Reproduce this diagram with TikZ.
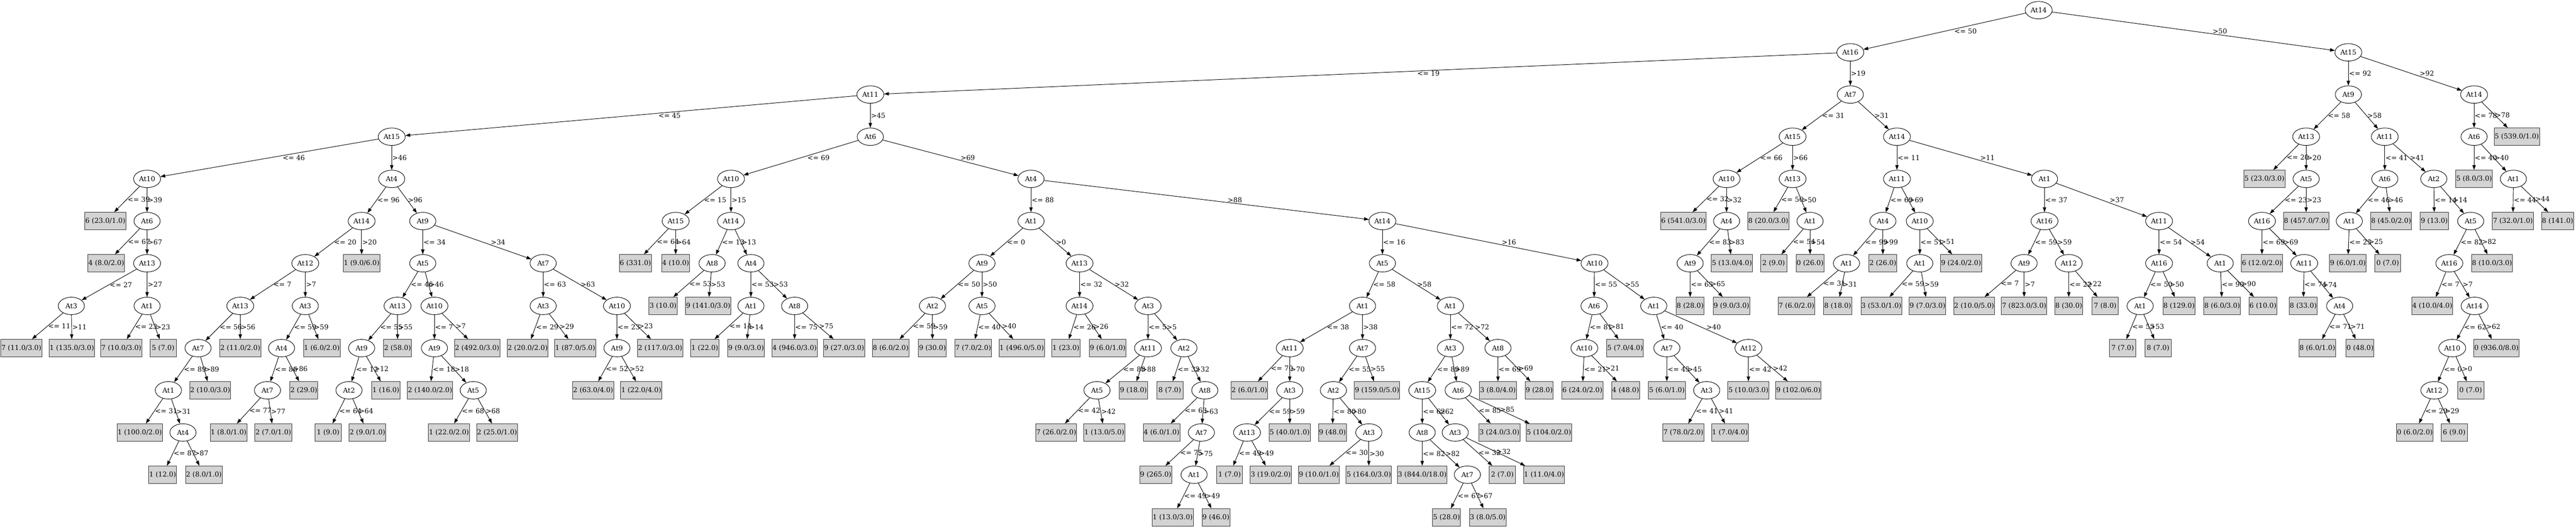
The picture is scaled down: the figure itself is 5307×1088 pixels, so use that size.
\documentclass[tikz,border=0pt]{standalone}
\usepackage{fontspec}
\setmainfont{DejaVu Serif}
\usetikzlibrary{shapes.geometric,arrows.meta}
\definecolor{leafgray}{HTML}{D3D3D3}
\begin{document}
\begin{tikzpicture}[
    x=1pt, y=-1pt, line width=1pt,
    font=\fontsize{14}{16}\selectfont,
    attr/.style={draw=black, ellipse, minimum width=54pt, minimum height=36pt, inner xsep=3pt, inner ysep=1pt},
    leaf/.style={draw=black!80, fill=leafgray, rectangle, minimum width=54pt, minimum height=36pt, inner xsep=1pt},
    arrow/.style={-{Triangle[length=10pt,width=7pt]}, black},
    lbl/.style={anchor=west, inner sep=1pt}
]
\useasboundingbox (0,0) rectangle (5307,1088);

% Root and upper levels
\node[attr] (n1) at (4200,21) {At14};
\node[attr] (n2) at (3812,108) {At16};
\node[attr] (n3) at (1793,195) {At11};
\node[attr] (n99) at (4838,108) {At15};

% Left part, At15
\node[attr] (n4) at (807,282) {At15};
\node[attr] (n5) at (303,369) {At10};
\node[leaf] (l1) at (217,456) {6 (23.0/1.0)};
\node[attr] (n6) at (303,456) {At6};
\node[leaf] (l2) at (219,543) {4 (8.0/2.0)};
\node[attr] (n7) at (303,543) {At13};
\node[attr] (n8) at (147,631) {At3};
\node[leaf] (l3) at (44,718) {7 (11.0/3.0)};
\node[leaf] (l4) at (148,718) {1 (135.0/3.0)};
\node[attr] (n9) at (303,631) {At1};
\node[leaf] (l5) at (250,718) {7 (10.0/3.0)};
\node[leaf] (l6) at (336,718) {5 (7.0)};
\node[attr] (n10) at (807,369) {At4};
\node[attr] (n11) at (745,456) {At14};
\node[attr] (n12) at (629,543) {At12};
\node[attr] (n13) at (495,631) {At13};
\node[attr] (n14) at (408,718) {At7};
\node[attr] (n15) at (347,805) {At1};
\node[leaf] (l7) at (288,892) {1 (100.0/2.0)};
\node[attr] (n16) at (377,892) {At4};
\node[leaf] (l8) at (335,979) {1 (12.0)};
\node[leaf] (l9) at (420,979) {2 (8.0/1.0)};
\node[leaf] (l10) at (433,805) {2 (10.0/3.0)};
\node[leaf] (l11) at (495,718) {2 (11.0/2.0)};
\node[attr] (n17) at (629,631) {At3};
\node[attr] (n18) at (580,718) {At4};
\node[attr] (n19) at (551,805) {At7};
\node[leaf] (l12) at (471,892) {1 (8.0/1.0)};
\node[leaf] (l13) at (563,892) {2 (7.0/1.0)};
\node[leaf] (l14) at (626,805) {2 (29.0)};
\node[leaf] (l15) at (663,718) {1 (6.0/2.0)};
\node[leaf] (l16) at (745,543) {1 (9.0/6.0)};
\node[attr] (n20) at (871,456) {At9};
\node[attr] (n21) at (871,543) {At5};
\node[attr] (n22) at (819,631) {At13};
\node[attr] (n23) at (745,718) {At9};
\node[attr] (n24) at (719,805) {At2};
\node[leaf] (l17) at (676,892) {1 (9.0)};
\node[leaf] (l18) at (757,892) {2 (9.0/1.0)};
\node[leaf] (l19) at (795,805) {1 (16.0)};
\node[leaf] (l20) at (819,718) {2 (58.0)};
\node[attr] (n25) at (895,631) {At10};
\node[attr] (n26) at (895,718) {At9};
\node[leaf] (l21) at (886,805) {2 (140.0/2.0)};
\node[attr] (n27) at (975,805) {At5};
\node[leaf] (l22) at (925,892) {1 (22.0/2.0)};
\node[leaf] (l23) at (1024,892) {2 (25.0/1.0)};
\node[leaf] (l24) at (983,718) {2 (492.0/3.0)};
\node[attr] (n28) at (1119,543) {At7};
\node[attr] (n29) at (1119,631) {At3};
\node[leaf] (l25) at (1087,718) {2 (20.0/2.0)};
\node[leaf] (l26) at (1185,718) {1 (87.0/5.0)};
\node[attr] (n30) at (1271,631) {At10};
\node[attr] (n31) at (1271,718) {At9};
\node[leaf] (l27) at (1222,805) {2 (63.0/4.0)};
\node[leaf] (l28) at (1321,805) {1 (22.0/4.0)};
\node[leaf] (l29) at (1360,718) {2 (117.0/3.0)};

% Middle part, At6
\node[attr] (n32) at (1793,282) {At6};
\node[attr] (n33) at (1506,369) {At10};
\node[attr] (n34) at (1392,456) {At15};
\node[leaf] (l30) at (1309,543) {6 (331.0)};
\node[leaf] (l31) at (1392,543) {4 (10.0)};
\node[attr] (n35) at (1506,456) {At14};
\node[attr] (n36) at (1467,543) {At8};
\node[leaf] (l32) at (1366,631) {3 (10.0)};
\node[leaf] (l33) at (1459,631) {9 (141.0/3.0)};
\node[attr] (n37) at (1547,543) {At4};
\node[attr] (n38) at (1547,631) {At1};
\node[leaf] (l34) at (1452,718) {1 (22.0)};
\node[leaf] (l35) at (1537,718) {9 (9.0/3.0)};
\node[attr] (n39) at (1637,631) {At8};
\node[leaf] (l36) at (1637,718) {4 (946.0/3.0)};
\node[leaf] (l37) at (1739,718) {9 (27.0/3.0)};
\node[attr] (n40) at (2124,369) {At4};
\node[attr] (n41) at (2124,456) {At1};
\node[attr] (n42) at (2023,543) {At9};
\node[attr] (n43) at (1921,631) {At2};
\node[leaf] (l38) at (1835,718) {8 (6.0/2.0)};
\node[leaf] (l39) at (1921,718) {9 (30.0)};
\node[attr] (n44) at (2023,631) {At5};
\node[leaf] (l40) at (2005,718) {7 (7.0/2.0)};
\node[leaf] (l41) at (2105,718) {1 (496.0/5.0)};
\node[attr] (n45) at (2224,543) {At13};
\node[attr] (n46) at (2224,631) {At14};
\node[leaf] (l42) at (2196,718) {1 (23.0)};
\node[leaf] (l43) at (2282,718) {9 (6.0/1.0)};
\node[attr] (n47) at (2365,631) {At3};
\node[attr] (n48) at (2365,718) {At11};
\node[attr] (n49) at (2260,805) {At5};
\node[leaf] (l44) at (2176,892) {7 (26.0/2.0)};
\node[leaf] (l45) at (2275,892) {1 (13.0/5.0)};
\node[leaf] (l46) at (2335,805) {9 (18.0)};
\node[attr] (n50) at (2439,718) {At2};
\node[leaf] (l47) at (2410,805) {8 (7.0)};
\node[attr] (n51) at (2482,805) {At8};
\node[leaf] (l48) at (2393,892) {4 (6.0/1.0)};
\node[attr] (n52) at (2475,892) {At7};
\node[leaf] (l49) at (2381,979) {9 (265.0)};
\node[attr] (n53) at (2460,979) {At1};
\node[leaf] (l50) at (2416,1067) {1 (13.0/3.0)};
\node[leaf] (l51) at (2505,1067) {9 (46.0)};
\node[attr] (n54) at (2848,456) {At14};
\node[attr] (n55) at (2848,543) {At5};
\node[attr] (n56) at (2807,631) {At1};
\node[attr] (n57) at (2657,718) {At11};
\node[leaf] (l52) at (2574,805) {2 (6.0/1.0)};
\node[attr] (n58) at (2657,805) {At3};
\node[attr] (n59) at (2569,892) {At13};
\node[leaf] (l53) at (2533,979) {1 (7.0)};
\node[leaf] (l54) at (2618,979) {3 (19.0/2.0)};
\node[leaf] (l55) at (2657,892) {5 (40.0/1.0)};
\node[attr] (n60) at (2807,718) {At7};
\node[attr] (n61) at (2747,805) {At2};
\node[leaf] (l56) at (2745,892) {9 (48.0)};
\node[attr] (n62) at (2820,892) {At3};
\node[leaf] (l57) at (2717,979) {9 (10.0/1.0)};
\node[leaf] (l58) at (2820,979) {5 (164.0/3.0)};
\node[leaf] (l59) at (2837,805) {9 (159.0/5.0)};
\node[attr] (n63) at (2988,631) {At1};
\node[attr] (n64) at (2988,718) {At3};
\node[attr] (n65) at (2930,805) {At15};
\node[attr] (n66) at (2930,892) {At8};
\node[leaf] (l60) at (2930,979) {3 (844.0/18.0)};
\node[attr] (n67) at (3023,979) {At7};
\node[leaf] (l61) at (2980,1067) {5 (28.0)};
\node[leaf] (l62) at (3065,1067) {3 (8.0/5.0)};
\node[attr] (n68) at (2998,892) {At3};
\node[leaf] (l63) at (3095,979) {2 (7.0)};
\node[leaf] (l64) at (3181,979) {1 (11.0/4.0)};
\node[attr] (n69) at (3004,805) {At6};
\node[leaf] (l65) at (3089,892) {3 (24.0/3.0)};
\node[leaf] (l66) at (3191,892) {5 (104.0/2.0)};
\node[attr] (n70) at (3086,718) {At8};
\node[leaf] (l67) at (3086,805) {3 (8.0/4.0)};
\node[leaf] (l68) at (3171,805) {9 (28.0)};
\node[attr] (n71) at (3285,543) {At10};
\node[attr] (n72) at (3284,631) {At6};
\node[attr] (n73) at (3264,718) {At10};
\node[leaf] (l69) at (3260,805) {6 (24.0/2.0)};
\node[leaf] (l70) at (3349,805) {4 (48.0)};
\node[leaf] (l71) at (3348,718) {5 (7.0/4.0)};
\node[attr] (n74) at (3407,631) {At1};
\node[attr] (n75) at (3434,718) {At7};
\node[leaf] (l72) at (3434,805) {5 (6.0/1.0)};
\node[attr] (n76) at (3516,805) {At3};
\node[leaf] (l73) at (3468,892) {7 (78.0/2.0)};
\node[leaf] (l74) at (3564,892) {1 (7.0/4.0)};
\node[attr] (n77) at (3602,718) {At12};
\node[leaf] (l75) at (3602,805) {5 (10.0/3.0)};
\node[leaf] (l76) at (3705,805) {9 (102.0/6.0)};

% Right of At16, At7
\node[attr] (n78) at (3812,195) {At7};
\node[attr] (n79) at (3693,282) {At15};
\node[attr] (n80) at (3557,369) {At10};
\node[leaf] (l77) at (3468,456) {6 (541.0/3.0)};
\node[attr] (n81) at (3557,456) {At4};
\node[attr] (n82) at (3482,543) {At9};
\node[leaf] (l78) at (3482,631) {8 (28.0)};
\node[leaf] (l79) at (3567,631) {9 (9.0/3.0)};
\node[leaf] (l80) at (3568,543) {5 (13.0/4.0)};
\node[attr] (n83) at (3693,369) {At13};
\node[leaf] (l81) at (3643,456) {8 (20.0/3.0)};
\node[attr] (n84) at (3729,456) {At1};
\node[leaf] (l82) at (3654,543) {2 (9.0)};
\node[leaf] (l83) at (3729,543) {0 (26.0)};
\node[attr] (n85) at (3908,282) {At14};
\node[attr] (n86) at (3908,369) {At11};
\node[attr] (n87) at (3879,456) {At4};
\node[attr] (n88) at (3804,543) {At1};
\node[leaf] (l84) at (3701,631) {7 (6.0/2.0)};
\node[leaf] (l85) at (3786,631) {8 (18.0)};
\node[leaf] (l86) at (3879,543) {2 (26.0)};
\node[attr] (n89) at (3955,456) {At10};
\node[attr] (n90) at (3955,543) {At1};
\node[leaf] (l87) at (3876,631) {3 (53.0/1.0)};
\node[leaf] (l88) at (3971,631) {9 (7.0/3.0)};
\node[leaf] (l89) at (4040,543) {9 (24.0/2.0)};
\node[attr] (n91) at (4212,369) {At1};
\node[attr] (n92) at (4212,456) {At16};
\node[attr] (n93) at (4170,543) {At9};
\node[leaf] (l90) at (4067,631) {2 (10.0/5.0)};
\node[leaf] (l91) at (4170,631) {7 (823.0/3.0)};
\node[attr] (n94) at (4262,543) {At12};
\node[leaf] (l92) at (4262,631) {8 (30.0)};
\node[leaf] (l93) at (4337,631) {7 (8.0)};
\node[attr] (n95) at (4448,456) {At11};
\node[attr] (n96) at (4448,543) {At16};
\node[attr] (n97) at (4409,631) {At1};
\node[leaf] (l94) at (4373,718) {7 (7.0)};
\node[leaf] (l95) at (4446,718) {8 (7.0)};
\node[leaf] (l96) at (4489,631) {8 (129.0)};
\node[attr] (n98) at (4574,543) {At1};
\node[leaf] (l97) at (4578,631) {8 (6.0/3.0)};
\node[leaf] (l98) at (4662,631) {6 (10.0)};

% Right part, At15
\node[attr] (n100) at (4838,195) {At9};
\node[attr] (n101) at (4751,282) {At13};
\node[leaf] (l99) at (4665,369) {5 (23.0/3.0)};
\node[attr] (n102) at (4751,369) {At5};
\node[attr] (n103) at (4660,456) {At16};
\node[leaf] (l100) at (4660,543) {6 (12.0/2.0)};
\node[attr] (n104) at (4747,543) {At11};
\node[leaf] (l101) at (4745,631) {8 (33.0)};
\node[attr] (n105) at (4820,631) {At4};
\node[leaf] (l102) at (4774,718) {8 (6.0/1.0)};
\node[leaf] (l103) at (4862,718) {0 (48.0)};
\node[leaf] (l104) at (4751,456) {8 (457.0/7.0)};
\node[attr] (n106) at (4913,282) {At11};
\node[attr] (n107) at (4913,369) {At6};
\node[attr] (n108) at (4840,456) {At1};
\node[leaf] (l105) at (4837,543) {9 (6.0/1.0)};
\node[leaf] (l106) at (4919,543) {0 (7.0)};
\node[leaf] (l107) at (4926,456) {8 (45.0/2.0)};
\node[attr] (n109) at (5014,369) {At2};
\node[leaf] (l108) at (5015,456) {9 (13.0)};
\node[attr] (n110) at (5090,456) {At5};
\node[attr] (n111) at (5046,543) {At16};
\node[leaf] (l109) at (5011,631) {4 (10.0/4.0)};
\node[attr] (n112) at (5098,631) {At14};
\node[attr] (n113) at (5052,718) {At10};
\node[attr] (n114) at (5015,805) {At12};
\node[leaf] (l110) at (4975,892) {0 (6.0/2.0)};
\node[leaf] (l111) at (5056,892) {6 (9.0)};
\node[leaf] (l112) at (5090,805) {0 (7.0)};
\node[leaf] (l113) at (5143,718) {0 (936.0/8.0)};
\node[leaf] (l114) at (5134,543) {8 (10.0/3.0)};
\node[attr] (n115) at (5097,195) {At14};
\node[attr] (n116) at (5097,282) {At6};
\node[leaf] (l115) at (5097,369) {5 (8.0/3.0)};
\node[attr] (n117) at (5178,369) {At1};
\node[leaf] (l116) at (5177,456) {7 (32.0/1.0)};
\node[leaf] (l117) at (5269,456) {8 (141.0)};
\node[leaf] (l118) at (5185,282) {5 (539.0/1.0)};

% Arrows
\draw[arrow] (n1) -- node[lbl, xshift=19pt] {<= 50} (n2);
\draw[arrow] (n1) -- node[lbl, xshift=38pt] {>50} (n99);
\draw[arrow] (n2) -- node[lbl, xshift=116pt] {<= 19} (n3);
\draw[arrow] (n2) -- node[lbl] {>19} (n78);
\draw[arrow] (n3) -- node[lbl, xshift=55pt] {<= 45} (n4);
\draw[arrow] (n3) -- node[lbl] {>45} (n32);
\draw[arrow] (n4) -- node[lbl, xshift=26pt] {<= 46} (n5);
\draw[arrow] (n4) -- node[lbl] {>46} (n10);
\draw[arrow] (n5) -- node[lbl] {<= 39} (l1);
\draw[arrow] (n5) -- node[lbl] {>39} (n6);
\draw[arrow] (n6) -- node[lbl] {<= 67} (l2);
\draw[arrow] (n6) -- node[lbl] {>67} (n7);
\draw[arrow] (n7) -- node[lbl] {<= 27} (n8);
\draw[arrow] (n7) -- node[lbl] {>27} (n9);
\draw[arrow] (n8) -- node[lbl] {<= 11} (l3);
\draw[arrow] (n8) -- node[lbl] {>11} (l4);
\draw[arrow] (n9) -- node[lbl] {<= 23} (l5);
\draw[arrow] (n9) -- node[lbl] {>23} (l6);
\draw[arrow] (n10) -- node[lbl] {<= 96} (n11);
\draw[arrow] (n10) -- node[lbl] {>96} (n20);
\draw[arrow] (n11) -- node[lbl] {<= 20} (n12);
\draw[arrow] (n11) -- node[lbl] {>20} (l16);
\draw[arrow] (n12) -- node[lbl] {<= 7} (n13);
\draw[arrow] (n12) -- node[lbl] {>7} (n17);
\draw[arrow] (n13) -- node[lbl] {<= 56} (n14);
\draw[arrow] (n13) -- node[lbl] {>56} (l11);
\draw[arrow] (n14) -- node[lbl] {<= 89} (n15);
\draw[arrow] (n14) -- node[lbl] {>89} (l10);
\draw[arrow] (n15) -- node[lbl] {<= 31} (l7);
\draw[arrow] (n15) -- node[lbl] {>31} (n16);
\draw[arrow] (n16) -- node[lbl] {<= 87} (l8);
\draw[arrow] (n16) -- node[lbl] {>87} (l9);
\draw[arrow] (n17) -- node[lbl] {<= 59} (n18);
\draw[arrow] (n17) -- node[lbl] {>59} (l15);
\draw[arrow] (n18) -- node[lbl] {<= 86} (n19);
\draw[arrow] (n18) -- node[lbl] {>86} (l14);
\draw[arrow] (n19) -- node[lbl] {<= 77} (l12);
\draw[arrow] (n19) -- node[lbl] {>77} (l13);
\draw[arrow] (n20) -- node[lbl] {<= 34} (n21);
\draw[arrow] (n20) -- node[lbl, xshift=15pt] {>34} (n28);
\draw[arrow] (n21) -- node[lbl] {<= 46} (n22);
\draw[arrow] (n21) -- node[lbl] {>46} (n25);
\draw[arrow] (n22) -- node[lbl] {<= 55} (n23);
\draw[arrow] (n22) -- node[lbl] {>55} (l20);
\draw[arrow] (n23) -- node[lbl] {<= 12} (n24);
\draw[arrow] (n23) -- node[lbl] {>12} (l19);
\draw[arrow] (n24) -- node[lbl] {<= 64} (l17);
\draw[arrow] (n24) -- node[lbl] {>64} (l18);
\draw[arrow] (n25) -- node[lbl] {<= 7} (n26);
\draw[arrow] (n25) -- node[lbl] {>7} (l24);
\draw[arrow] (n26) -- node[lbl] {<= 18} (l21);
\draw[arrow] (n26) -- node[lbl] {>18} (n27);
\draw[arrow] (n27) -- node[lbl] {<= 68} (l22);
\draw[arrow] (n27) -- node[lbl] {>68} (l23);
\draw[arrow] (n28) -- node[lbl] {<= 63} (n29);
\draw[arrow] (n28) -- node[lbl] {>63} (n30);
\draw[arrow] (n29) -- node[lbl] {<= 29} (l25);
\draw[arrow] (n29) -- node[lbl] {>29} (l26);
\draw[arrow] (n30) -- node[lbl] {<= 23} (n31);
\draw[arrow] (n30) -- node[lbl] {>23} (l29);
\draw[arrow] (n31) -- node[lbl] {<= 52} (l27);
\draw[arrow] (n31) -- node[lbl] {>52} (l28);
\draw[arrow] (n32) -- node[lbl, xshift=12pt] {<= 69} (n33);
\draw[arrow] (n32) -- node[lbl, xshift=19pt] {>69} (n40);
\draw[arrow] (n33) -- node[lbl] {<= 15} (n34);
\draw[arrow] (n33) -- node[lbl] {>15} (n35);
\draw[arrow] (n34) -- node[lbl] {<= 64} (l30);
\draw[arrow] (n34) -- node[lbl] {>64} (l31);
\draw[arrow] (n35) -- node[lbl] {<= 13} (n36);
\draw[arrow] (n35) -- node[lbl] {>13} (n37);
\draw[arrow] (n36) -- node[lbl] {<= 53} (l32);
\draw[arrow] (n36) -- node[lbl] {>53} (l33);
\draw[arrow] (n37) -- node[lbl] {<= 53} (n38);
\draw[arrow] (n37) -- node[lbl] {>53} (n39);
\draw[arrow] (n38) -- node[lbl] {<= 14} (l34);
\draw[arrow] (n38) -- node[lbl] {>14} (l35);
\draw[arrow] (n39) -- node[lbl] {<= 75} (l36);
\draw[arrow] (n39) -- node[lbl] {>75} (l37);
\draw[arrow] (n40) -- node[lbl] {<= 88} (n41);
\draw[arrow] (n40) -- node[lbl, xshift=42pt] {>88} (n54);
\draw[arrow] (n41) -- node[lbl] {<= 0} (n42);
\draw[arrow] (n41) -- node[lbl] {>0} (n45);
\draw[arrow] (n42) -- node[lbl] {<= 50} (n43);
\draw[arrow] (n42) -- node[lbl] {>50} (n44);
\draw[arrow] (n43) -- node[lbl] {<= 59} (l38);
\draw[arrow] (n43) -- node[lbl] {>59} (l39);
\draw[arrow] (n44) -- node[lbl] {<= 40} (l40);
\draw[arrow] (n44) -- node[lbl] {>40} (l41);
\draw[arrow] (n45) -- node[lbl] {<= 32} (n46);
\draw[arrow] (n45) -- node[lbl] {>32} (n47);
\draw[arrow] (n46) -- node[lbl] {<= 26} (l42);
\draw[arrow] (n46) -- node[lbl] {>26} (l43);
\draw[arrow] (n47) -- node[lbl] {<= 5} (n48);
\draw[arrow] (n47) -- node[lbl] {>5} (n50);
\draw[arrow] (n48) -- node[lbl] {<= 88} (n49);
\draw[arrow] (n48) -- node[lbl] {>88} (l46);
\draw[arrow] (n49) -- node[lbl] {<= 42} (l44);
\draw[arrow] (n49) -- node[lbl] {>42} (l45);
\draw[arrow] (n50) -- node[lbl] {<= 32} (l47);
\draw[arrow] (n50) -- node[lbl] {>32} (n51);
\draw[arrow] (n51) -- node[lbl] {<= 63} (l48);
\draw[arrow] (n51) -- node[lbl] {>63} (n52);
\draw[arrow] (n52) -- node[lbl] {<= 75} (l49);
\draw[arrow] (n52) -- node[lbl] {>75} (n53);
\draw[arrow] (n53) -- node[lbl] {<= 49} (l50);
\draw[arrow] (n53) -- node[lbl] {>49} (l51);
\draw[arrow] (n54) -- node[lbl] {<= 16} (n55);
\draw[arrow] (n54) -- node[lbl, xshift=26pt] {>16} (n71);
\draw[arrow] (n55) -- node[lbl] {<= 58} (n56);
\draw[arrow] (n55) -- node[lbl] {>58} (n63);
\draw[arrow] (n56) -- node[lbl] {<= 38} (n57);
\draw[arrow] (n56) -- node[lbl] {>38} (n60);
\draw[arrow] (n57) -- node[lbl] {<= 70} (l52);
\draw[arrow] (n57) -- node[lbl] {>70} (n58);
\draw[arrow] (n58) -- node[lbl] {<= 59} (n59);
\draw[arrow] (n58) -- node[lbl] {>59} (l55);
\draw[arrow] (n59) -- node[lbl] {<= 49} (l53);
\draw[arrow] (n59) -- node[lbl] {>49} (l54);
\draw[arrow] (n60) -- node[lbl] {<= 55} (n61);
\draw[arrow] (n60) -- node[lbl] {>55} (l59);
\draw[arrow] (n61) -- node[lbl] {<= 80} (l56);
\draw[arrow] (n61) -- node[lbl] {>80} (n62);
\draw[arrow] (n62) -- node[lbl] {<= 30} (l57);
\draw[arrow] (n62) -- node[lbl] {>30} (l58);
\draw[arrow] (n63) -- node[lbl] {<= 72} (n64);
\draw[arrow] (n63) -- node[lbl] {>72} (n70);
\draw[arrow] (n64) -- node[lbl] {<= 89} (n65);
\draw[arrow] (n64) -- node[lbl] {>89} (n69);
\draw[arrow] (n65) -- node[lbl] {<= 62} (n66);
\draw[arrow] (n65) -- node[lbl] {>62} (n68);
\draw[arrow] (n66) -- node[lbl] {<= 82} (l60);
\draw[arrow] (n66) -- node[lbl] {>82} (n67);
\draw[arrow] (n67) -- node[lbl] {<= 67} (l61);
\draw[arrow] (n67) -- node[lbl] {>67} (l62);
\draw[arrow] (n68) -- node[lbl] {<= 32} (l63);
\draw[arrow] (n68) -- node[lbl] {>32} (l64);
\draw[arrow] (n69) -- node[lbl] {<= 85} (l65);
\draw[arrow] (n69) -- node[lbl] {>85} (l66);
\draw[arrow] (n70) -- node[lbl] {<= 69} (l67);
\draw[arrow] (n70) -- node[lbl] {>69} (l68);
\draw[arrow] (n71) -- node[lbl] {<= 55} (n72);
\draw[arrow] (n71) -- node[lbl] {>55} (n74);
\draw[arrow] (n72) -- node[lbl] {<= 81} (n73);
\draw[arrow] (n72) -- node[lbl] {>81} (l71);
\draw[arrow] (n73) -- node[lbl] {<= 21} (l69);
\draw[arrow] (n73) -- node[lbl] {>21} (l70);
\draw[arrow] (n74) -- node[lbl] {<= 40} (n75);
\draw[arrow] (n74) -- node[lbl, xshift=10pt] {>40} (n77);
\draw[arrow] (n75) -- node[lbl] {<= 45} (l72);
\draw[arrow] (n75) -- node[lbl] {>45} (n76);
\draw[arrow] (n76) -- node[lbl] {<= 41} (l73);
\draw[arrow] (n76) -- node[lbl] {>41} (l74);
\draw[arrow] (n77) -- node[lbl] {<= 42} (l75);
\draw[arrow] (n77) -- node[lbl] {>42} (l76);
\draw[arrow] (n78) -- node[lbl] {<= 31} (n79);
\draw[arrow] (n78) -- node[lbl] {>31} (n85);
\draw[arrow] (n79) -- node[lbl] {<= 66} (n80);
\draw[arrow] (n79) -- node[lbl] {>66} (n83);
\draw[arrow] (n80) -- node[lbl] {<= 32} (l77);
\draw[arrow] (n80) -- node[lbl] {>32} (n81);
\draw[arrow] (n81) -- node[lbl] {<= 83} (n82);
\draw[arrow] (n81) -- node[lbl] {>83} (l80);
\draw[arrow] (n82) -- node[lbl] {<= 65} (l78);
\draw[arrow] (n82) -- node[lbl] {>65} (l79);
\draw[arrow] (n83) -- node[lbl] {<= 50} (l81);
\draw[arrow] (n83) -- node[lbl] {>50} (n84);
\draw[arrow] (n84) -- node[lbl] {<= 54} (l82);
\draw[arrow] (n84) -- node[lbl] {>54} (l83);
\draw[arrow] (n85) -- node[lbl] {<= 11} (n86);
\draw[arrow] (n85) -- node[lbl, xshift=18pt] {>11} (n91);
\draw[arrow] (n86) -- node[lbl] {<= 69} (n87);
\draw[arrow] (n86) -- node[lbl] {>69} (n89);
\draw[arrow] (n87) -- node[lbl] {<= 99} (n88);
\draw[arrow] (n87) -- node[lbl] {>99} (l86);
\draw[arrow] (n88) -- node[lbl] {<= 31} (l84);
\draw[arrow] (n88) -- node[lbl] {>31} (l85);
\draw[arrow] (n89) -- node[lbl] {<= 51} (n90);
\draw[arrow] (n89) -- node[lbl] {>51} (l89);
\draw[arrow] (n90) -- node[lbl] {<= 59} (l87);
\draw[arrow] (n90) -- node[lbl] {>59} (l88);
\draw[arrow] (n91) -- node[lbl] {<= 37} (n92);
\draw[arrow] (n91) -- node[lbl, xshift=15pt] {>37} (n95);
\draw[arrow] (n92) -- node[lbl] {<= 59} (n93);
\draw[arrow] (n92) -- node[lbl] {>59} (n94);
\draw[arrow] (n93) -- node[lbl] {<= 7} (l90);
\draw[arrow] (n93) -- node[lbl] {>7} (l91);
\draw[arrow] (n94) -- node[lbl] {<= 22} (l92);
\draw[arrow] (n94) -- node[lbl] {>22} (l93);
\draw[arrow] (n95) -- node[lbl] {<= 54} (n96);
\draw[arrow] (n95) -- node[lbl] {>54} (n98);
\draw[arrow] (n96) -- node[lbl] {<= 50} (n97);
\draw[arrow] (n96) -- node[lbl] {>50} (l96);
\draw[arrow] (n97) -- node[lbl] {<= 53} (l94);
\draw[arrow] (n97) -- node[lbl] {>53} (l95);
\draw[arrow] (n98) -- node[lbl] {<= 90} (l97);
\draw[arrow] (n98) -- node[lbl] {>90} (l98);
\draw[arrow] (n99) -- node[lbl] {<= 92} (n100);
\draw[arrow] (n99) -- node[lbl, xshift=16pt] {>92} (n115);
\draw[arrow] (n100) -- node[lbl] {<= 58} (n101);
\draw[arrow] (n100) -- node[lbl] {>58} (n106);
\draw[arrow] (n101) -- node[lbl] {<= 20} (l99);
\draw[arrow] (n101) -- node[lbl] {>20} (n102);
\draw[arrow] (n102) -- node[lbl] {<= 23} (n103);
\draw[arrow] (n102) -- node[lbl] {>23} (l104);
\draw[arrow] (n103) -- node[lbl] {<= 69} (l100);
\draw[arrow] (n103) -- node[lbl] {>69} (n104);
\draw[arrow] (n104) -- node[lbl] {<= 74} (l101);
\draw[arrow] (n104) -- node[lbl] {>74} (n105);
\draw[arrow] (n105) -- node[lbl] {<= 71} (l102);
\draw[arrow] (n105) -- node[lbl] {>71} (l103);
\draw[arrow] (n106) -- node[lbl] {<= 41} (n107);
\draw[arrow] (n106) -- node[lbl] {>41} (n109);
\draw[arrow] (n107) -- node[lbl] {<= 46} (n108);
\draw[arrow] (n107) -- node[lbl] {>46} (l107);
\draw[arrow] (n108) -- node[lbl] {<= 25} (l105);
\draw[arrow] (n108) -- node[lbl] {>25} (l106);
\draw[arrow] (n109) -- node[lbl] {<= 14} (l108);
\draw[arrow] (n109) -- node[lbl] {>14} (n110);
\draw[arrow] (n110) -- node[lbl] {<= 82} (n111);
\draw[arrow] (n110) -- node[lbl] {>82} (l114);
\draw[arrow] (n111) -- node[lbl] {<= 7} (l109);
\draw[arrow] (n111) -- node[lbl] {>7} (n112);
\draw[arrow] (n112) -- node[lbl] {<= 62} (n113);
\draw[arrow] (n112) -- node[lbl] {>62} (l113);
\draw[arrow] (n113) -- node[lbl] {<= 0} (n114);
\draw[arrow] (n113) -- node[lbl] {>0} (l112);
\draw[arrow] (n114) -- node[lbl] {<= 29} (l110);
\draw[arrow] (n114) -- node[lbl] {>29} (l111);
\draw[arrow] (n115) -- node[lbl] {<= 78} (n116);
\draw[arrow] (n115) -- node[lbl] {>78} (l118);
\draw[arrow] (n116) -- node[lbl] {<= 40} (l115);
\draw[arrow] (n116) -- node[lbl] {>40} (n117);
\draw[arrow] (n117) -- node[lbl] {<= 44} (l116);
\draw[arrow] (n117) -- node[lbl] {>44} (l117);

\end{tikzpicture}
\end{document}
